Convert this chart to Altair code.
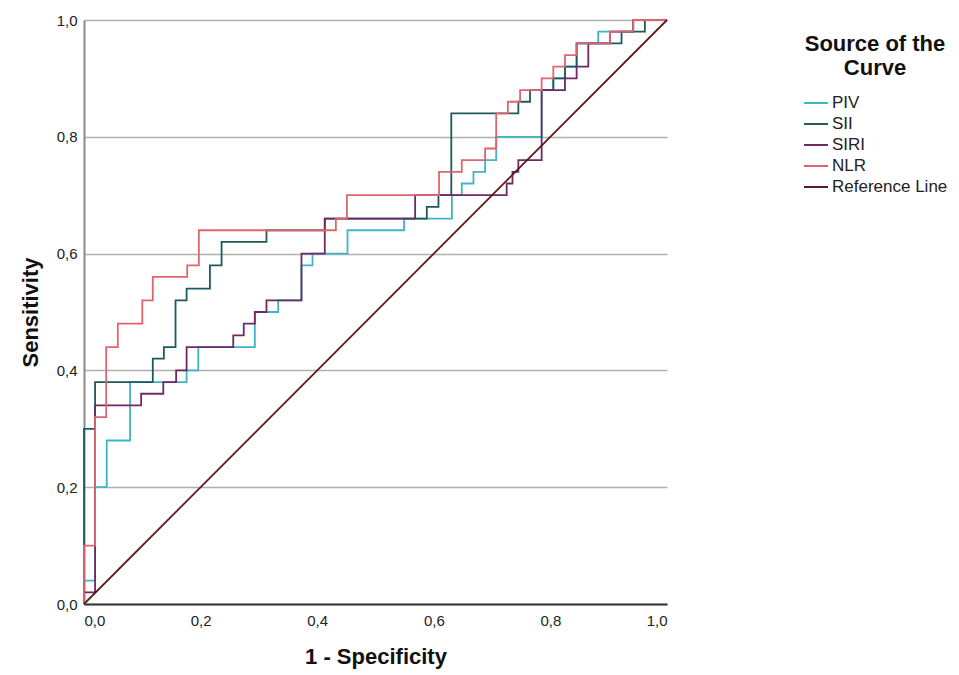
import altair as alt
import pandas as pd

curve_names = ["PIV", "SII", "SIRI", "NLR", "Reference Line"]
curve_colors = ["#3fb5c6", "#1d5a5b", "#6e2b63", "#e0646f", "#5a1c1f"]

piv_fpr = [0, 0, 0.019, 0.019, 0.039, 0.039, 0.079, 0.079, 0.176, 0.176, 0.196, 0.196, 0.293, 0.293,
           0.333, 0.333, 0.373, 0.373, 0.392, 0.392, 0.452, 0.452, 0.549, 0.549, 0.631, 0.631,
           0.648, 0.648, 0.668, 0.668, 0.688, 0.688, 0.707, 0.707, 0.785, 0.785, 0.805, 0.805,
           0.825, 0.825, 0.845, 0.845, 0.882, 0.882, 0.942, 0.942, 1.0]
piv_tpr = [0, 0.04, 0.04, 0.20, 0.20, 0.28, 0.28, 0.38, 0.38, 0.40, 0.40, 0.44, 0.44, 0.50,
           0.50, 0.52, 0.52, 0.58, 0.58, 0.60, 0.60, 0.64, 0.64, 0.66, 0.66, 0.70,
           0.70, 0.72, 0.72, 0.74, 0.74, 0.76, 0.76, 0.80, 0.80, 0.88, 0.88, 0.90,
           0.90, 0.92, 0.92, 0.96, 0.96, 0.98, 0.98, 1.0, 1.0]

sii_fpr = [0, 0, 0.019, 0.019, 0.118, 0.118, 0.137, 0.137, 0.157, 0.157, 0.176, 0.176, 0.216, 0.216,
           0.236, 0.236, 0.313, 0.313, 0.413, 0.413, 0.588, 0.588, 0.608, 0.608, 0.630, 0.630,
           0.745, 0.745, 0.765, 0.765, 0.805, 0.805, 0.825, 0.825, 0.845, 0.845, 0.922, 0.922,
           0.962, 0.962, 1.0]
sii_tpr = [0, 0.30, 0.30, 0.38, 0.38, 0.42, 0.42, 0.44, 0.44, 0.52, 0.52, 0.54, 0.54, 0.58,
           0.58, 0.62, 0.62, 0.64, 0.64, 0.66, 0.66, 0.68, 0.68, 0.70, 0.70, 0.84,
           0.84, 0.86, 0.86, 0.88, 0.88, 0.90, 0.90, 0.92, 0.92, 0.96, 0.96, 0.98,
           0.98, 1.0, 1.0]

siri_fpr = [0, 0, 0.019, 0.019, 0.098, 0.098, 0.136, 0.136, 0.158, 0.158, 0.176, 0.176, 0.256, 0.256,
            0.274, 0.274, 0.293, 0.293, 0.313, 0.313, 0.373, 0.373, 0.413, 0.413, 0.568, 0.568,
            0.725, 0.725, 0.735, 0.735, 0.745, 0.745, 0.785, 0.785, 0.825, 0.825, 0.845, 0.845,
            0.865, 0.865, 0.902, 0.902, 0.942, 0.942, 1.0]
siri_tpr = [0, 0.02, 0.02, 0.34, 0.34, 0.36, 0.36, 0.38, 0.38, 0.40, 0.40, 0.44, 0.44, 0.46,
            0.46, 0.48, 0.48, 0.50, 0.50, 0.52, 0.52, 0.60, 0.60, 0.66, 0.66, 0.70,
            0.70, 0.72, 0.72, 0.74, 0.74, 0.76, 0.76, 0.88, 0.88, 0.90, 0.90, 0.92,
            0.92, 0.96, 0.96, 0.98, 0.98, 1.0, 1.0]

nlr_fpr = [0, 0, 0.019, 0.019, 0.038, 0.038, 0.058, 0.058, 0.100, 0.100, 0.118, 0.118, 0.177, 0.177,
           0.197, 0.197, 0.432, 0.432, 0.451, 0.451, 0.609, 0.609, 0.648, 0.648, 0.688, 0.688,
           0.707, 0.707, 0.727, 0.727, 0.748, 0.748, 0.785, 0.785, 0.805, 0.805, 0.825, 0.825,
           0.845, 0.845, 0.902, 0.902, 0.942, 0.942, 1.0]
nlr_tpr = [0, 0.10, 0.10, 0.32, 0.32, 0.44, 0.44, 0.48, 0.48, 0.52, 0.52, 0.56, 0.56, 0.58,
           0.58, 0.64, 0.64, 0.66, 0.66, 0.70, 0.70, 0.74, 0.74, 0.76, 0.76, 0.78,
           0.78, 0.84, 0.84, 0.86, 0.86, 0.88, 0.88, 0.90, 0.90, 0.92, 0.92, 0.94,
           0.94, 0.96, 0.96, 0.98, 0.98, 1.0, 1.0]

ref_fpr = [0, 1.0]
ref_tpr = [0, 1.0]

tick_values = [0, 0.2, 0.4, 0.6, 0.8, 1.0]

rows = []
for name, xs, ys in [("PIV", piv_fpr, piv_tpr), ("SII", sii_fpr, sii_tpr),
                     ("SIRI", siri_fpr, siri_tpr), ("NLR", nlr_fpr, nlr_tpr),
                     ("Reference Line", ref_fpr, ref_tpr)]:
    for i, (x, y) in enumerate(zip(xs, ys)):
        rows.append({"curve": name, "step": i, "fpr": x, "tpr": y})
df = pd.DataFrame(rows)

FONT = "Liberation Sans"
label_expr = "replace(format(datum.value, '.1f'), '.', ',')"

chart = alt.Chart(df).mark_line(strokeWidth=1.8).encode(
    x=alt.X("fpr:Q",
            scale=alt.Scale(domain=[0, 1], nice=False, zero=False),
            axis=alt.Axis(values=tick_values, labelExpr=label_expr, grid=False, ticks=False,
                          labelFlush=True, labelPadding=9, labelFontSize=15, labelColor="#222",
                          labelFont=FONT, domainColor="#333", domainWidth=2,
                          title="1 - Specificity", titleFont=FONT, titleFontSize=22,
                          titleFontWeight="bold", titleColor="#111", titlePadding=18, zindex=1)),
    y=alt.Y("tpr:Q",
            scale=alt.Scale(domain=[0, 1], nice=False, zero=False),
            axis=alt.Axis(values=tick_values, labelExpr=label_expr, grid=True, gridColor="#b0b0b0",
                          gridWidth=1.5, ticks=False, labelPadding=7, labelFontSize=15,
                          labelColor="#222", labelFont=FONT, domainColor="#8a8a8a", domainWidth=2,
                          title="Sensitivity", titleFont=FONT, titleFontSize=22,
                          titleFontWeight="bold", titleColor="#111", titlePadding=14)),
    color=alt.Color("curve:N",
                    scale=alt.Scale(domain=curve_names, range=curve_colors),
                    legend=alt.Legend(title=["Source of the", "Curve"], orient="none",
                                      legendX=719, legendY=14, titleFont=FONT, titleFontSize=22,
                                      titleFontWeight="bold", titleColor="#111", titleAlign="center",
                                      titleAnchor="middle", titleLineHeight=24, titlePadding=10,
                                      symbolType="stroke", symbolStrokeWidth=2, symbolSize=576,
                                      labelFont=FONT, labelFontSize=17, labelColor="#222",
                                      labelOffset=3, rowPadding=-7)),
    order=alt.Order("step:Q"),
).properties(
    width=583, height=584,
    autosize=alt.AutoSizeParams(type="none"),
    padding={"left": 76, "top": 12, "right": 284, "bottom": 70},
).configure_view(strokeWidth=0)

chart.save("out.html", embed_options={"renderer": "svg", "actions": False})
